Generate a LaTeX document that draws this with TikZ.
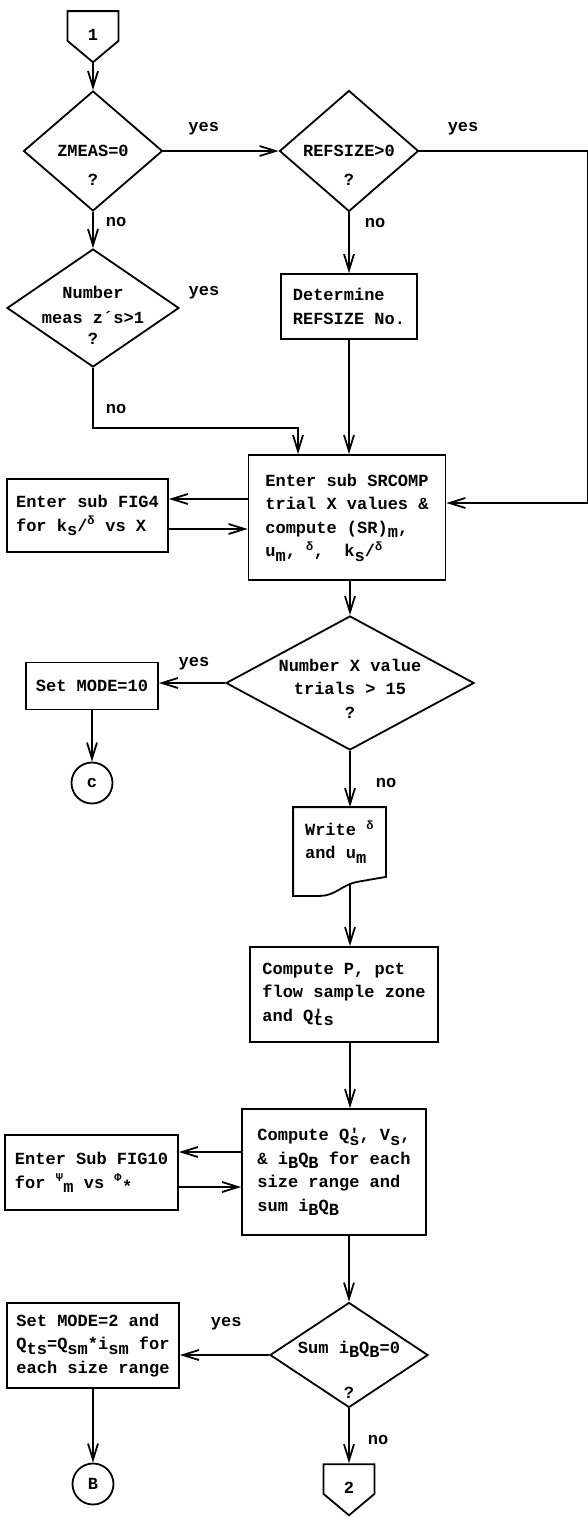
\documentclass[tikz,border=0pt]{standalone}
\usepackage{fontspec}
\setmainfont{Liberation Mono}
\usetikzlibrary{shapes,arrows.meta,positioning}

\newcommand{\dn}[1]{\raisebox{-4.5pt}{#1}}
\newcommand{\up}[1]{\textsuperscript{#1}}
\newcommand{\qtext}[2]{\makebox[0pt]{\raisebox{-#1}[0pt][0pt]{\begin{tabular}[t]{@{}c@{}}#2\end{tabular}}}}

\begin{document}
\begin{tikzpicture}[>={Straight Barb[length=16pt,width=10pt]}, x=1pt, y=1pt, line width=1.8pt, node distance=150pt, auto, font=\fontsize{17}{23.5}\selectfont\bfseries]
    % Define block styles
    \tikzstyle{block} = [rectangle, draw, align=left, inner sep=0pt]
    \tikzstyle{decision} = [diamond, draw, inner sep=0pt]
    \tikzstyle{offpage} = [signal, signal to=south, signal pointer angle=100, draw, inner sep=0pt, minimum width=51pt, minimum height=34pt]
    \tikzstyle{connector} = [circle, draw, inner sep=0pt, minimum size=41pt]
    \tikzstyle{io} = [rectangle, align=left, inner sep=0pt]
    \tikzstyle{lbl} = [inner sep=0pt]
    \tikzstyle{line} = [draw, ->]

    \useasboundingbox (0,0) rectangle (588,-1518);

    % Nodes
    \node [decision, minimum width=139pt, minimum height=120pt] (zmeas) at (93,-151) {\qtext{5pt}{ZMEAS=0\\[6pt]?}};
    \node [offpage, above of=zmeas, node distance=125pt] (start) {\raisebox{-14pt}[0pt][0pt]{1}};
    \node [decision, right of=zmeas, node distance=256pt, minimum width=139pt, minimum height=121pt] (refsize) {\qtext{5pt}{REFSIZE>0\\[6pt]?}};
    \node [decision, below of=zmeas, node distance=157pt, minimum width=172pt, minimum height=118pt] (nmeas) {\qtext{-10pt}{Number\\[2pt]meas z´s>1\\[-3pt]?}};
    \node [lbl, right of=nmeas, node distance=111pt, yshift=15pt] (nmyes) {yes};
    \node [block, below of=refsize, node distance=155.5pt, minimum width=136pt, minimum height=65pt] (determine) {Determine\\REFSIZE No.};
    \node [block, below of=determine, node distance=211pt, xshift=-2pt, minimum width=197pt, minimum height=125pt] (srcomp) {Enter sub SRCOMP\\trial X values \&\\compute (SR)\dn{m},\\u\dn{m}, \up{δ},\ \ k\dn{s}/\up{δ}};
    \node [block, left of=srcomp, node distance=259.5pt, yshift=2pt, minimum width=161pt, minimum height=73pt] (fig4) {Enter sub FIG4\\for k\dn{s}/\up{δ} vs X};
    \node [decision, below of=srcomp, node distance=165.5pt, xshift=3pt, minimum width=248pt, minimum height=134pt] (ntrial) {\qtext{-12pt}{Number X value\\trials > 15\\?}};
    \node [block, left of=ntrial, node distance=258pt, yshift=-3pt, minimum width=132pt, minimum height=47pt] (mode10) {Set MODE=10};
    \node [connector, below of=mode10, node distance=97pt] (cpt) {c};
    \node [io, below of=ntrial, node distance=159pt, xshift=-10.5pt, minimum width=91pt, minimum height=68pt] (write) {Write \up{δ}\\and u\dn{m}};
    \node [block, below of=write, node distance=152.5pt, xshift=4.5pt, minimum width=188pt, minimum height=95pt] (computep) {Compute P, pct\\flow sample zone\\and Q\rlap{\textquotesingle}\dn{ts}};
    \node [block, below of=computep, node distance=177.5pt, xshift=-10pt, minimum width=184pt, minimum height=126pt] (computeq) {Compute Q\rlap{\textquotesingle}\dn{s}, V\dn{s},\\\& i\dn{B}Q\dn{B} for each\\size range and\\sum i\dn{B}Q\dn{B}};
    \node [block, left of=computeq, node distance=242.5pt, yshift=-0.5pt, minimum width=173pt, minimum height=75pt] (fig10) {Enter Sub FIG10\\for \up{Ψ}\dn{m} vs \up{Φ}\dn{*}};
    \node [decision, below of=computeq, node distance=183pt, xshift=15pt, minimum width=158pt, minimum height=105pt] (sumq) {\qtext{-2pt}{Sum i\dn{B}Q\dn{B}=0\\[22pt]?}};
    \node [block, left of=sumq, node distance=256pt, yshift=9.5pt, minimum width=172pt, minimum height=85pt] (mode2) {Set MODE=2 and\\Q\dn{ts}=Q\dn{sm}*i\dn{sm} for\\each size range};
    \node [connector, below of=mode2, node distance=138.5pt] (bpt) {B};
    \node [offpage, below of=sumq, node distance=124pt] (finish) {\raisebox{-14pt}[0pt][0pt]{2}};

    % Document outline of the write node
    \draw (write.south east) -- (write.north east) -- (write.north west) -- ([yshift=-19pt]write.south west) -- ([xshift=27pt,yshift=-19pt]write.south west) .. controls ([xshift=42pt,yshift=-19pt]write.south west) and ([xshift=-44pt,yshift=-8pt]write.south east) .. ([xshift=-29pt,yshift=-5pt]write.south east) -- cycle;

    % Arrows
    \path [line] (start.south) -- (zmeas.north);
    \path [line] (zmeas.east) -- node [lbl, above=15pt, pos=0.35] (yes1) {yes} (refsize.west);
    \path [line] (refsize.east) -- node [lbl, above=15pt, pos=0.26] (yes2) {yes} ++(168,0) |- ([yshift=14.5pt]srcomp.east);
    \path [line] (zmeas.south) -- node [lbl, right=12pt, pos=0.29] (no1) {no} (nmeas.north);
    \path [line] (refsize.south) -- node [lbl, right=15pt, pos=0.17] (no2) {no} (determine.north);
    \path [line] (nmeas.south) -- node [lbl, right=12pt, pos=0.68] (no3) {no} ++(0,-60) -| ([xshift=-49pt]srcomp.north);
    \path [line] (determine.south) -- (determine.south |- srcomp.north);
    \path [line] ([yshift=18.5pt]srcomp.west) -- ([yshift=18.5pt]srcomp.west -| fig4.east);
    \path [line] ([yshift=-13.5pt]fig4.east) -- ([yshift=-13.5pt]fig4.east -| srcomp.west);
    \path [line] (ntrial.north |- srcomp.south) -- (ntrial.north);
    \path [line] (ntrial.west) -- node [lbl, above=12pt, pos=0.47] (yes3) {yes} (ntrial.west -| mode10.east);
    \path [line] (mode10.south) -- (cpt.north);
    \path [line] (ntrial.south) -- node [lbl, right=25pt, pos=0.57] (no4) {no} (ntrial.south |- write.north);
    \path [line] ([yshift=-6pt]write.south -| ntrial.south) -- (ntrial.south |- computep.north);
    \path [line] (ntrial.south |- computep.south) -- (ntrial.south |- computeq.north);
    \path [line] ([yshift=20pt]computeq.west) -- ([yshift=20pt]computeq.west -| fig10.east);
    \path [line] ([yshift=-14.5pt]fig10.east) -- ([yshift=-14.5pt]fig10.east -| computeq.west);
    \path [line] (sumq.north |- computeq.south) -- (sumq.north);
    \path [line] (sumq.west) -- node [lbl, above=24pt, pos=0.48] (yes4) {yes} (sumq.west -| mode2.east);
    \path [line] (mode2.south) -- (bpt.north);
    \path [line] (sumq.south) -- node [lbl, right=18pt, pos=0.58] (no5) {no} (finish.north);

\end{tikzpicture}
\end{document}
